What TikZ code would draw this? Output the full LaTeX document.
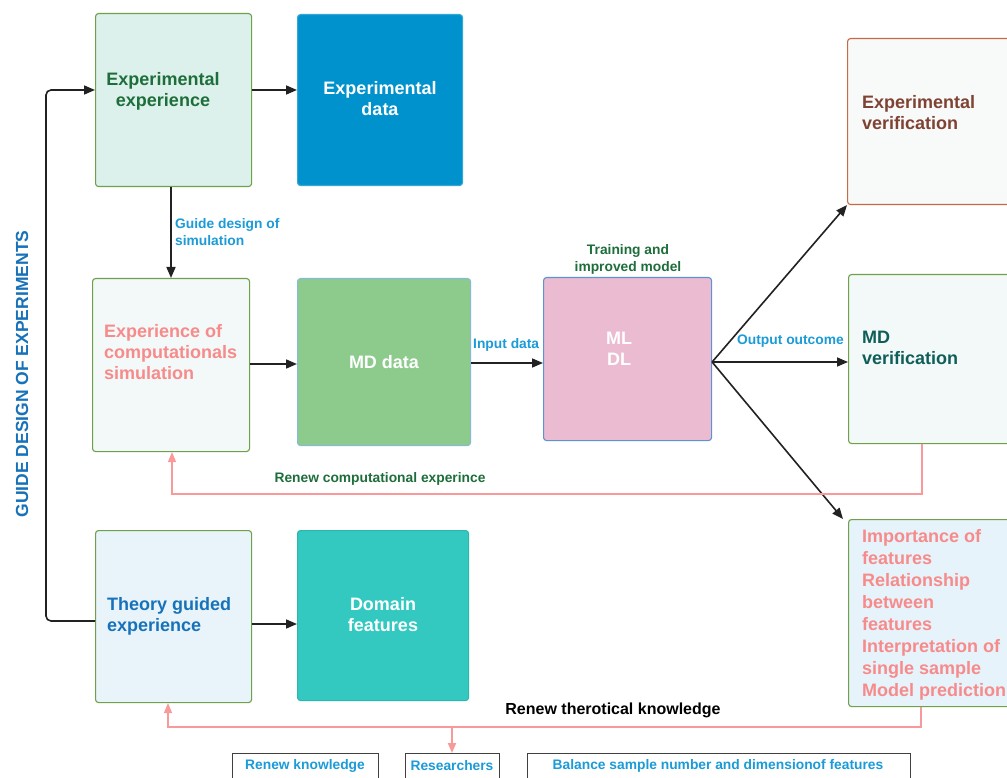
\documentclass[tikz,border=0pt]{standalone}
\usepackage{fontspec}
\setmainfont{Liberation Sans}
\usetikzlibrary{arrows.meta,calc}
\definecolor{bordergreen}{HTML}{6FA04A}
\definecolor{expfill}{HTML}{DCF1EC}
\definecolor{expdata}{HTML}{0092CC}
\definecolor{simfill}{HTML}{F3F9F8}
\definecolor{mdfill}{HTML}{8DCB8C}
\definecolor{mdborder}{HTML}{86BBD6}
\definecolor{mlfill}{HTML}{EBBCD1}
\definecolor{mlborder}{HTML}{5E93D1}
\definecolor{evfill}{HTML}{F8F9F9}
\definecolor{evborder}{HTML}{C66A45}
\definecolor{evtext}{HTML}{7F4233}
\definecolor{mdvtext}{HTML}{0F5E59}
\definecolor{impfill}{HTML}{E6F3FA}
\definecolor{pinktext}{HTML}{F78B8B}
\definecolor{theofill}{HTML}{E8F4FA}
\definecolor{theotext}{HTML}{1772B9}
\definecolor{domfill}{HTML}{33C9C0}
\definecolor{pinkline}{HTML}{F9999A}
\definecolor{lblue}{HTML}{1B9BD7}
\definecolor{dgreen}{HTML}{1E6E3B}
\definecolor{darrow}{HTML}{222222}
\tikzset{
  box/.style={draw, rounded corners=3pt, line width=1.1pt, anchor=north west, inner sep=0pt},
  btext/.style={font=\fontsize{18}{21}\selectfont\bfseries, align=left, inner sep=0pt},
  small/.style={font=\fontsize{13.8}{17}\selectfont\bfseries, inner sep=0pt},
  flow/.style={draw=darrow, line width=1.6pt, -{Triangle[length=11pt,width=9pt]}},
  pink/.style={draw=pinkline, line width=1.5pt, -{Triangle[length=10pt,width=8pt]}},
  tag/.style={draw=gray!50!black, line width=1.3pt, anchor=north west, inner sep=0pt}
}
\begin{document}
\begin{tikzpicture}[x=1pt,y=-1pt]
\useasboundingbox[fill=white] (0,0) rectangle (1007,778);
% boxes
\node[box, draw=bordergreen, fill=expfill, minimum width=156pt, minimum height=173pt] (ee) at (95,13) {};
\node[box, draw=expdata!80!white, fill=expdata, minimum width=165pt, minimum height=171pt] (ed) at (297,14) {};
\node[box, draw=bordergreen, fill=simfill, minimum width=157pt, minimum height=173pt] (cs) at (92,278) {};
\node[box, draw=mdborder, fill=mdfill, minimum width=173pt, minimum height=167pt] (md) at (297,278) {};
\node[box, draw=mlborder, fill=mlfill, minimum width=168pt, minimum height=163pt] (ml) at (543,277) {};
\node[box, draw=evborder, fill=evfill, minimum width=175pt, minimum height=166pt] (ev) at (847,38) {};
\node[box, draw=bordergreen, fill=simfill, minimum width=175pt, minimum height=169pt] (mv) at (848,274) {};
\node[box, draw=bordergreen, fill=impfill, minimum width=175pt, minimum height=187pt] (imp) at (848,519) {};
\node[box, draw=bordergreen, fill=theofill, minimum width=156pt, minimum height=172pt] (tg) at (95,530) {};
\node[box, draw=domfill!90!black, fill=domfill, minimum width=171pt, minimum height=170pt] (df) at (297,530) {};
% texts
\node[btext, align=center, text=dgreen] (eet) at (163,91) {Experimental\\experience};
\node[btext, align=center, text=white] (edt) at (380,99) {Experimental\\data};
\node[btext, text=pinktext, anchor=west] (cst) at (104,352) {Experience of\\computationals\\simulation};
\node[btext, align=center, text=white] (mdt) at (384,362) {MD data};
\node[btext, align=center, text=white] (mlt) at (619,349) {ML\\DL};
\node[btext, text=evtext, anchor=west] (evt) at (862,113) {Experimental\\verification};
\node[btext, text=mdvtext, anchor=west] (mvt) at (862,348) {MD\\verification};
\node[btext, text=pinktext, anchor=north west, font=\fontsize{18}{22}\selectfont\bfseries] (impt) at (862,529) {Importance of\\features\\Relationship\\between\\features\\Interpretation of\\single sample\\Model prediction};
\node[btext, text=theotext, anchor=west] (tgt) at (107,616) {Theory guided\\experience};
\node[btext, align=center, text=white] (dft) at (383,615) {Domain\\features};
% labels
\node[small, text=lblue, anchor=north west, align=left] (lg) at (175,218) {Guide design of\\simulation};
\node[small, text=lblue, anchor=west] (li) at (473,345) {Input data};
\node[small, text=lblue, anchor=west] (lo) at (737,341) {Output outcome};
\node[small, text=dgreen, align=center] (lt) at (628,259) {Training and\\improved model};
\node[small, text=dgreen] (lr) at (380,479) {Renew computational experince};
\node[small, text=black, font=\fontsize{16}{18}\selectfont\bfseries] (lk) at (613,710) {Renew therotical knowledge};
\node[text=theotext, font=\fontsize{17.5}{18}\selectfont\bfseries, rotate=90, inner sep=0pt] (gd) at (22,374) {GUIDE DESIGN OF EXPERIMENTS};
% bottom tags
\node[tag, minimum width=146pt, minimum height=32pt] (t1) at (232,753) {};
\node[small, text=lblue] (t1t) at (305,766) {Renew knowledge};
\node[tag, minimum width=94pt, minimum height=32pt] (t2) at (405,753) {};
\node[small, text=lblue] (t2t) at (452,766) {Researchers};
\node[tag, minimum width=383pt, minimum height=32pt] (t3) at (527,753) {};
\node[small, text=lblue] (t3t) at (718,766) {Balance sample number and dimensionof features};
% connectors
\draw[flow] (ee.east |- 0,90) -- (ed.west |- 0,90);
\draw[flow] (ee.south -| 171,0) -- (cs.north -| 171,0);
\draw[flow] (cs.east |- 0,364) -- (md.west |- 0,364);
\draw[flow] (md.east |- 0,363) -- (ml.west |- 0,363);
\draw[flow] (tg.east |- 0,624) -- (df.west |- 0,624);
\coordinate (mlo) at (ml.east |- 0,362);
\draw[flow] (mlo) -- (ev.south west);
\draw[flow] (mlo) -- (mv.west |- 0,362);
\draw[flow] (mlo) -- ($(imp.north west)+(-5,0)$);
\draw[flow, rounded corners=5pt] (tg.west |- 0,621) -- (46,621) -- (46,90) -- (ee.west |- 0,90);
\draw[pink] (mv.south -| 922,0) -- (922,494) -- (172,494) -- (cs.south -| 172,0);
\draw[pink] (imp.south -| 921,0) -- (921,727) -- (168,727) -- (tg.south -| 168,0);
\coordinate (rs) at (452,727);
\draw[pink, line width=1.8pt] (rs) -- (t2.north -| 452,0);
\end{tikzpicture}
\end{document}
